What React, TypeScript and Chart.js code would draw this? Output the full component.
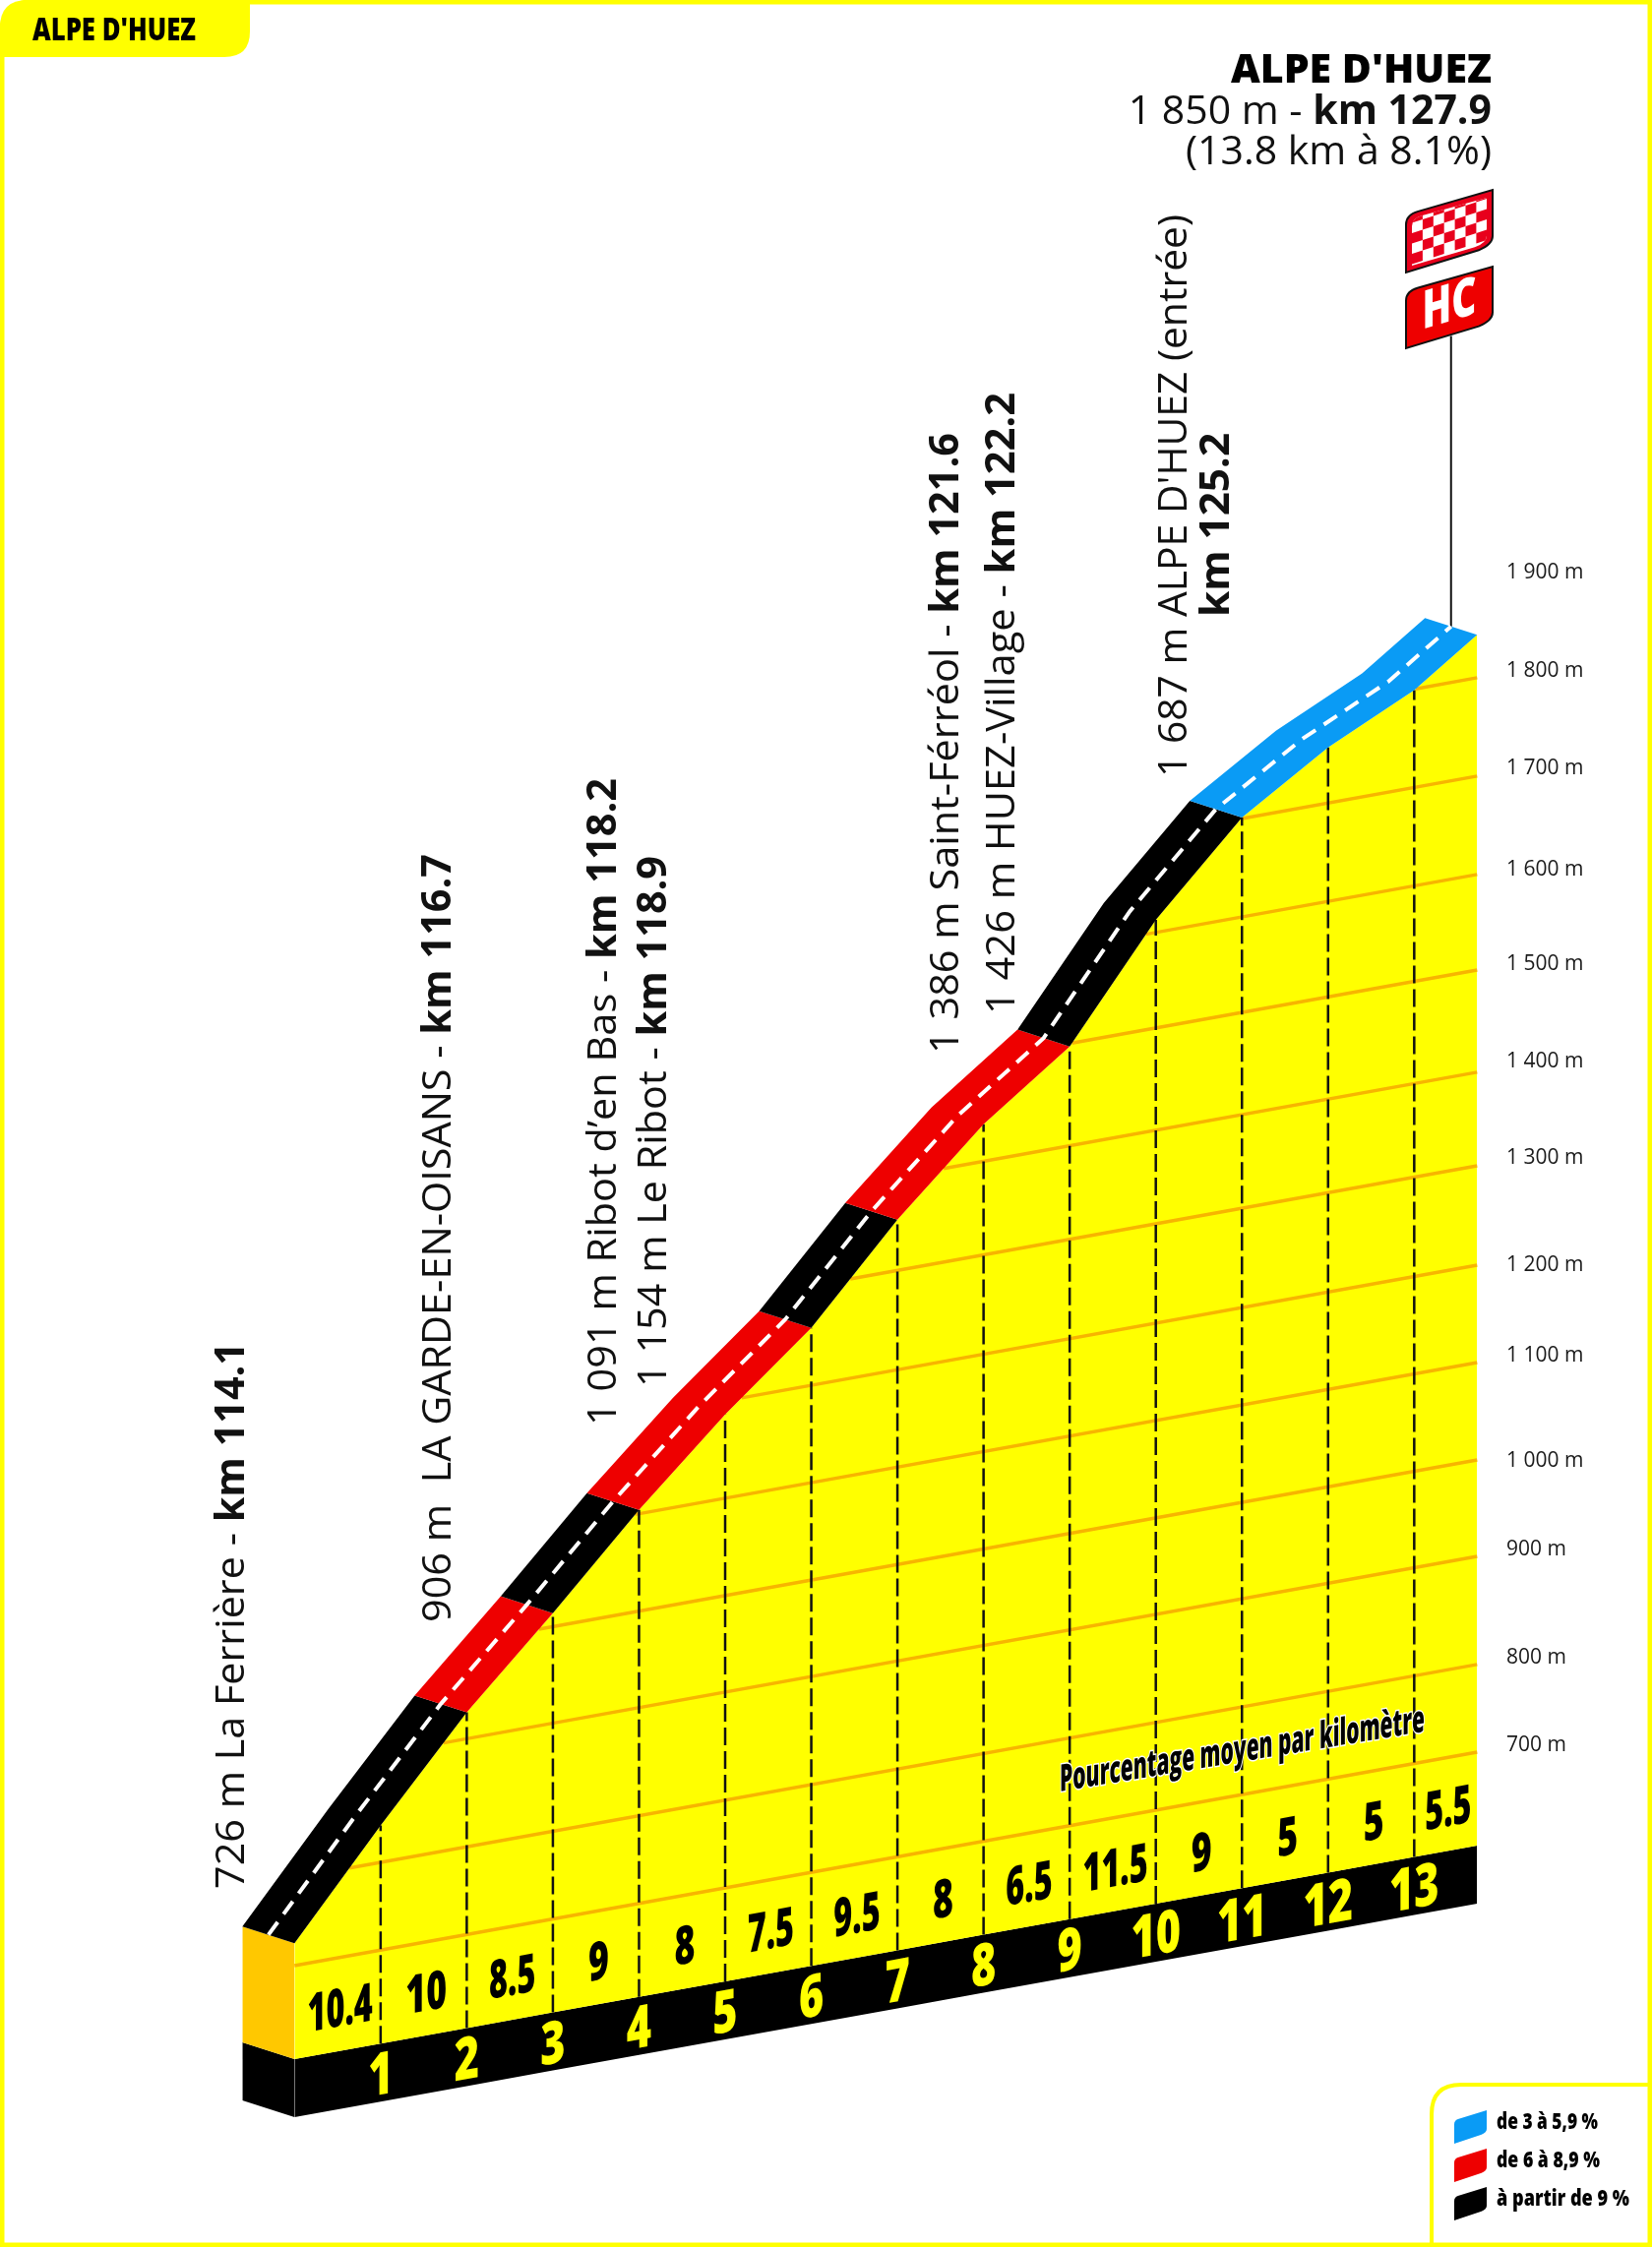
import { useEffect, useRef } from 'react';
import { Chart, registerables } from 'chart.js';

Chart.register(...registerables);

const FONT = "'Open Sans'";

// Profile: distance from the foot (km) and altitude (m)
const kmMarks = [0, 1, 2, 3, 4, 5, 6, 7, 8, 9, 10, 11, 12, 13, 13.73];
const altitudes = [726, 831, 931, 1017, 1107, 1189, 1262, 1357, 1439, 1503, 1617, 1706, 1762, 1805, 1850];

// Gradient per km, and the km labels under it
const gradeLabels = ['10.4', '10', '8.5', '9', '8', '7.5', '9.5', '8', '6.5', '11.5', '9', '5', '5', '5.5'];
const kmLabels = ['1', '2', '3', '4', '5', '6', '7', '8', '9', '10', '11', '12', '13'];

// Road colour changes
const bandBreaks = [0, 2, 3, 4, 6, 7, 9, 11, 13.73];
const bandGrades = ['steep', 'medium', 'steep', 'medium', 'steep', 'medium', 'steep', 'easy'];

// Altitude lines and right-hand axis labels (they do not sit exactly on round values)
const gridLevels = [703, 793, 904, 1003, 1103, 1203, 1305, 1401, 1506, 1604, 1705, 1806];
const tickLevels = [710, 800, 911, 1002, 1110, 1203, 1313, 1412, 1512, 1609, 1713, 1813, 1914];
const tickLabels = ['700 m', '800 m', '900 m', '1 000 m', '1 100 m', '1 200 m', '1 300 m', '1 400 m', '1 500 m', '1 600 m', '1 700 m', '1 800 m', '1 900 m'];

const legendLabels = ['de 3 à 5,9 %', 'de 6 à 8,9 %', 'à partir de 9 %'];
const legendGrades = ['easy', 'medium', 'steep'];

const gradeColours: Record<string, string> = { easy: '#0A9BF5', medium: '#EE0000', steep: '#000000' };

// Oblique view: ground rises to the right, the road has depth going back-left
const SHEAR = 15.96; // m per km
const BASE_ALT = 607;
const PLINTH_ALT = 547.4;
const BACK_KM = -0.605;
const BACK_M = 17.2;
const SUMMIT_KM = 13.73;
const POLE_TOP = 2376;

const sheared = (km: number, alt: number) => alt + SHEAR * km;

// km where an altitude line meets the road, so it does not stick out above it
function crossingKm(level: number) {
    for (let i = 1; i < kmMarks.length; i++) {
        if (level <= altitudes[i] && level >= altitudes[i - 1]) {
            const part = (level - altitudes[i - 1]) / (altitudes[i] - altitudes[i - 1]);
            return kmMarks[i - 1] + part * (kmMarks[i] - kmMarks[i - 1]);
        }
    }
    return 0;
}

const line = (data: { x: number; y: number }[], extra: object = {}) => ({
    data,
    pointRadius: 0,
    borderWidth: 0,
    tension: 0,
    fill: false,
    ...extra,
});

// Index 0 is painted last
function buildDatasets() {
    const road = kmMarks.map((km, i) => ({ x: km + BACK_KM / 2, y: sheared(km, altitudes[i]) + BACK_M / 2 }));
    const end = road[road.length - 1];
    return [
        line(road, { borderColor: '#FFFFFF', borderWidth: 4, borderDash: [16, 10] }),
        line([end, { x: end.x, y: POLE_TOP }], { borderColor: '#111111', borderWidth: 2 }),
        ...kmLabels.map((_, i) =>
            line(
                [
                    { x: kmMarks[i + 1], y: sheared(kmMarks[i + 1], BASE_ALT) },
                    { x: kmMarks[i + 1], y: sheared(kmMarks[i + 1], altitudes[i + 1]) },
                ],
                { borderColor: '#111111', borderWidth: 2.5, borderDash: [18, 6] },
            ),
        ),
        ...gridLevels.map((level) => {
            const start = crossingKm(level);
            return line(
                [
                    { x: start, y: sheared(start, level) },
                    { x: SUMMIT_KM, y: sheared(SUMMIT_KM, level) },
                ],
                { borderColor: '#F7B500', borderWidth: 3.5 },
            );
        }),
        line(kmMarks.map((km, i) => ({ x: km, y: sheared(km, altitudes[i]) })), { fill: '+1', backgroundColor: '#FFFF00' }),
        line(kmMarks.map((km) => ({ x: km, y: sheared(km, BASE_ALT) })), { fill: '+1', backgroundColor: '#000000' }),
        line(kmMarks.map((km) => ({ x: km, y: sheared(km, PLINTH_ALT) }))),
        // left side of the block
        line([{ x: BACK_KM, y: altitudes[0] + BACK_M }, { x: 0, y: altitudes[0] }], { fill: '+1', backgroundColor: '#FFC800' }),
        line([{ x: BACK_KM, y: BASE_ALT + BACK_M }, { x: 0, y: BASE_ALT }], { fill: '+1', backgroundColor: '#000000' }),
        line([{ x: BACK_KM, y: PLINTH_ALT + BACK_M }, { x: 0, y: PLINTH_ALT }]),
    ];
}

type Ctx = CanvasRenderingContext2D;

// Road surface: one parallelogram strip per gradient class
function drawBands(chart: Chart) {
    const { ctx, scales } = chart;
    bandGrades.forEach((grade, b) => {
        const idx = kmMarks.map((_, i) => i).filter((i) => kmMarks[i] >= bandBreaks[b] && kmMarks[i] <= bandBreaks[b + 1]);
        ctx.beginPath();
        idx.forEach((i) => {
            ctx.lineTo(scales.x.getPixelForValue(kmMarks[i]), scales.y.getPixelForValue(sheared(kmMarks[i], altitudes[i])));
        });
        idx.reverse().forEach((i) => {
            ctx.lineTo(scales.x.getPixelForValue(kmMarks[i] + BACK_KM), scales.y.getPixelForValue(sheared(kmMarks[i], altitudes[i]) + BACK_M));
        });
        ctx.closePath();
        ctx.fillStyle = gradeColours[grade];
        ctx.fill();
    });
}

// Condensed, slanted label centred on (x, y)
function slanted(ctx: Ctx, text: string, x: number, y: number, size: number, squeeze: number, colour: string) {
    ctx.save();
    ctx.translate(x, y);
    ctx.transform(1, -0.18, 0, 1, 0, 0);
    ctx.scale(squeeze, 1);
    ctx.font = `800 ${size}px ${FONT}`;
    ctx.textAlign = 'center';
    ctx.textBaseline = 'middle';
    ctx.fillStyle = colour;
    ctx.fillText(text, 0, 0);
    ctx.restore();
}

// Vertical label made of regular and bold runs, squeezed to the measured length
function vertical(ctx: Ctx, runs: [string, boolean][], x: number, bottom: number, length: number) {
    const fontOf = (bold: boolean) => `${bold ? 700 : 400} 41px ${FONT}`;
    const widths = runs.map(([text, bold]) => {
        ctx.font = fontOf(bold);
        return ctx.measureText(text).width;
    });
    const total = widths.reduce((a, b) => a + b, 0);
    ctx.save();
    ctx.translate(x, bottom);
    ctx.rotate(-Math.PI / 2);
    ctx.scale(length / total, 1);
    ctx.textAlign = 'left';
    ctx.textBaseline = 'alphabetic';
    ctx.fillStyle = '#111111';
    let at = 0;
    runs.forEach(([text, bold], i) => {
        ctx.font = fontOf(bold);
        ctx.fillText(text, at, 0);
        at += widths[i];
    });
    ctx.restore();
}

// Horizontal text fitted to a width, left edge at x
function fitted(ctx: Ctx, text: string, x: number, y: number, width: number, font: string, colour = '#000000') {
    ctx.save();
    ctx.font = font;
    const w = ctx.measureText(text).width;
    ctx.translate(x, y);
    ctx.scale(width / w, 1);
    ctx.textAlign = 'left';
    ctx.textBaseline = 'alphabetic';
    ctx.fillStyle = colour;
    ctx.fillText(text, 0, 0);
    ctx.restore();
}

// Shape shared by the climb signs and the legend swatches
function signPath(ctx: Ctx, x: number, y: number, w: number, h: number) {
    ctx.beginPath();
    ctx.moveTo(x, y + h);
    ctx.lineTo(x, y + h * 0.42);
    ctx.quadraticCurveTo(x, y + h * 0.3, x + w * 0.14, y + h * 0.26);
    ctx.lineTo(x + w, y);
    ctx.lineTo(x + w, y + h * 0.56);
    ctx.quadraticCurveTo(x + w, y + h * 0.66, x + w * 0.84, y + h * 0.73);
    ctx.closePath();
}

function drawSigns(ctx: Ctx) {
    // checkered sign
    signPath(ctx, 1429, 193, 88, 84);
    ctx.fillStyle = '#E8001C';
    ctx.fill();
    ctx.lineWidth = 2;
    ctx.strokeStyle = '#111111';
    ctx.stroke();
    ctx.save();
    signPath(ctx, 1435, 201, 76, 69);
    ctx.fillStyle = '#FFFFFF';
    ctx.fill();
    ctx.clip();
    ctx.fillStyle = '#E8001C';
    for (let row = 0; row < 5; row++) {
        for (let col = 0; col < 7; col++) {
            if ((row + col) % 2 === 0) {
                const x = 1435 + col * 10.9;
                const y = 216 - col * 3.5 + row * 10.5;
                ctx.beginPath();
                ctx.moveTo(x, y);
                ctx.lineTo(x + 10.9, y - 3.5);
                ctx.lineTo(x + 10.9, y + 7);
                ctx.lineTo(x, y + 10.5);
                ctx.closePath();
                ctx.fill();
            }
        }
    }
    ctx.restore();

    // HC sign
    signPath(ctx, 1429, 271, 88, 83);
    ctx.fillStyle = '#EE0000';
    ctx.fill();
    ctx.strokeStyle = '#111111';
    ctx.lineWidth = 2;
    ctx.stroke();
    ctx.save();
    ctx.translate(1473, 311);
    ctx.transform(1, -0.3, 0, 1, 0, 0);
    ctx.scale(0.72, 1);
    ctx.font = `800 54px ${FONT}`;
    ctx.textAlign = 'center';
    ctx.textBaseline = 'middle';
    ctx.fillStyle = '#FFFFFF';
    ctx.fillText('HC', 0, 0);
    ctx.restore();
}

function drawFrame(ctx: Ctx) {
    ctx.strokeStyle = '#FFFF00';
    ctx.lineWidth = 5;
    ctx.beginPath();
    ctx.roundRect(2, 2, 1675, 2280, [28, 0, 0, 0]);
    ctx.stroke();

    // tab
    ctx.fillStyle = '#FFFF00';
    ctx.beginPath();
    ctx.moveTo(0, 58);
    ctx.lineTo(0, 28);
    ctx.quadraticCurveTo(0, 0, 28, 0);
    ctx.lineTo(254, 0);
    ctx.lineTo(254, 32);
    ctx.quadraticCurveTo(254, 58, 228, 58);
    ctx.closePath();
    ctx.fill();
    fitted(ctx, "ALPE D'HUEZ", 33, 41, 166, `800 31px ${FONT}`);

    // legend box
    ctx.strokeStyle = '#FFFF00';
    ctx.lineWidth = 4;
    ctx.beginPath();
    ctx.moveTo(1455, 2284);
    ctx.lineTo(1455, 2149);
    ctx.quadraticCurveTo(1455, 2119, 1485, 2119);
    ctx.lineTo(1679, 2119);
    ctx.stroke();
    const legendWidths = [103, 105, 135];
    legendLabels.forEach((label, i) => {
        const top = 2145 + i * 39;
        signPath(ctx, 1478, top, 33, 34);
        ctx.fillStyle = gradeColours[legendGrades[i]];
        ctx.fill();
        fitted(ctx, label, 1521, top + 19, legendWidths[i], `800 22px ${FONT}`);
    });
}

function drawTexts(chart: Chart) {
    const { ctx, scales } = chart;

    // gradient per km and km numbers, following the ground slope
    gradeLabels.forEach((label, i) => {
        const km = (kmMarks[i] + kmMarks[i + 1]) / 2 + 0.03;
        const squeeze = label.length > 2 ? 0.6 : 0.66;
        slanted(ctx, label, scales.x.getPixelForValue(km), scales.y.getPixelForValue(sheared(km, BASE_ALT + 41)), 54, squeeze, '#000000');
    });
    kmLabels.forEach((label, i) => {
        const km = kmMarks[i + 1];
        slanted(ctx, label, scales.x.getPixelForValue(km), scales.y.getPixelForValue(sheared(km, BASE_ALT - 35)), 60, 0.72, '#FFFF00');
    });

    // caption, with a thin white halo
    ctx.save();
    ctx.translate(1077, 1821);
    ctx.transform(1, -0.165, 0, 1, 0, 0);
    ctx.font = `800 38px ${FONT}`;
    const caption = 'Pourcentage moyen par kilomètre';
    ctx.scale(371 / ctx.measureText(caption).width, 1);
    ctx.lineWidth = 3;
    ctx.strokeStyle = '#FFFFFF';
    ctx.strokeText(caption, 0, 0);
    ctx.fillStyle = '#000000';
    ctx.fillText(caption, 0, 0);
    ctx.restore();

    vertical(ctx, [['726 m La Ferrière - ', false], ['km 114.1', true]], 248, 1920, 556);
    vertical(ctx, [['906 m  LA GARDE-EN-OISANS - ', false], ['km 116.7', true]], 458, 1649, 781);
    vertical(ctx, [['1 091 m Ribot d’en Bas - ', false], ['km 118.2', true]], 626, 1449, 658);
    vertical(ctx, [['1 154 m Le Ribot - ', false], ['km 118.9', true]], 677, 1410, 540);
    vertical(ctx, [['1 386 m Saint-Férréol - ', false], ['km 121.6', true]], 974, 1071, 631);
    vertical(ctx, [['1 426 m HUEZ-Village - ', false], ['km 122.2', true]], 1031, 1031, 632);
    vertical(ctx, [["1 687 m ALPE D'HUEZ (entrée)", false]], 1206, 790, 572);
    vertical(ctx, [['km 125.2', true]], 1249, 627, 187);

    // summit block, right aligned
    fitted(ctx, "ALPE D'HUEZ", 1251, 84, 265, `800 40px ${FONT}`);
    ctx.save();
    ctx.textAlign = 'right';
    ctx.fillStyle = '#111111';
    ctx.font = `700 41px ${FONT}`;
    ctx.fillText('km 127.9', 1516, 126);
    const boldWidth = ctx.measureText('km 127.9').width;
    ctx.font = `400 41px ${FONT}`;
    ctx.fillText('1 850 m - ', 1516 - boldWidth, 126);
    ctx.fillText('(13.8 km à 8.1%)', 1516, 167);
    ctx.restore();

    drawSigns(ctx);
    drawFrame(ctx);
}

const profilePlugin = {
    id: 'profile',
    beforeDatasetDraw(chart: Chart, args: { index: number }) {
        if (args.index === 0) drawBands(chart);
    },
    afterDraw(chart: Chart) {
        drawTexts(chart);
    },
};

export default function App() {
    const canvasRef = useRef<HTMLCanvasElement | null>(null);

    useEffect(() => {
        document.body.style.margin = '0';
        if (!canvasRef.current) return;
        const chart = new Chart(canvasRef.current, {
            type: 'line',
            data: { datasets: buildDatasets() as any },
            plugins: [profilePlugin as any],
            options: {
                animation: false,
                responsive: false,
                events: [],
                layout: { autoPadding: false, padding: 0 },
                plugins: { legend: { display: false }, tooltip: { enabled: false } },
                scales: {
                    x: { type: 'linear', display: false, min: -3.419, max: 14.07 },
                    y: {
                        type: 'linear',
                        position: 'right',
                        min: 414.1,
                        max: 2720.9,
                        grid: { display: false, drawTicks: false },
                        border: { display: false },
                        afterBuildTicks: (scale: any) => {
                            scale.ticks = tickLevels.map((level) => ({ value: sheared(SUMMIT_KM, level) }));
                        },
                        // labels column of fixed width, and no room kept for half a label at both ends
                        afterFit: (scale: any) => {
                            scale.width = 148;
                            scale.paddingTop = 0;
                            scale.paddingBottom = 0;
                        },
                        ticks: {
                            autoSkip: false,
                            padding: 0,
                            crossAlign: 'near',
                            color: '#1A1A1A',
                            font: { family: 'Open Sans', size: 21 },
                            callback: (_: any, i: number) => tickLabels[i],
                        },
                    },
                },
            },
        });
        return () => chart.destroy();
    }, []);

    return <canvas ref={canvasRef} width={1679} height={2284} style={{ display: 'block' }} />;
}
